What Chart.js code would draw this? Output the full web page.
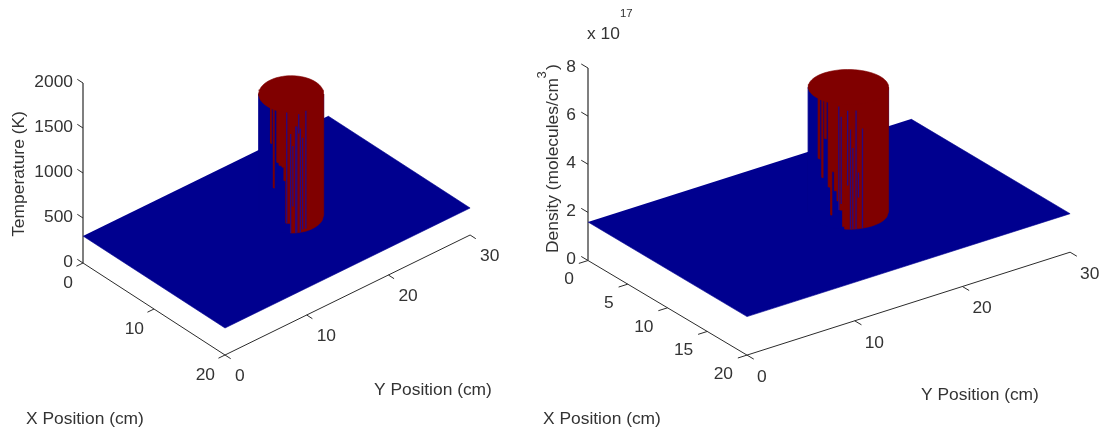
<!DOCTYPE html>
<html>
<head>
<meta charset="utf-8">
<style>
html,body{margin:0;padding:0;background:#fff;width:1100px;height:432px;overflow:hidden}
canvas{position:absolute;top:0}
</style>
<script src="https://cdn.jsdelivr.net/npm/chart.js@4"></script>
</head>
<body>
<canvas id="temp" style="left:0" width="530" height="432"></canvas>
<canvas id="dens" style="left:530px" width="570" height="432"></canvas>
<script>
// ---- shared axis data ----
const xLimit = 20;
const yLimit = 30;
const yTickValues = [0, 10, 20, 30];
const cylinderRadius = 3;
const cylinderCentre = [10, 16.8];

// ---- temperature panel data ----
const tempXTicks = [0, 10, 20];
const tempZTicks = [0, 500, 1000, 1500, 2000];
const tempZLabels = ['0', '500', '1000', '1500', '2000'];
const tempFloor = 300;
const tempTop = 1642;
// red part of the wall: edges across the cylinder and how far down red runs
const tempRedEdges = [-0.64,-0.60,-0.55,-0.52,-0.44,-0.37,-0.28,-0.22,-0.16,-0.02,1];
const tempRedDepth = [0.29,0,0.65,0,0.43,0.45,0.46,0.57,0.92,1];
// blue streaks on the red wall
const tempStreakU    = [-0.14,-0.02,0.05,0.14,0.17,0.23,0.28,0.35,0.45];
const tempStreakFrom = [0,0.18,0.28,0.12,0.12,0.02,0.14,0.22,0];
const tempStreakTo   = [0.92,1,0.78,1,1,0.18,1,0.98,0.98];

// ---- density panel data ----
const densXTicks = [0, 5, 10, 15, 20];
const densZTicks = [0, 2, 4, 6, 8];
const densZLabels = ['0', '2', '4', '6', '8'];
const densFloor = 1.6;
const densTop = 6.78;
const densRedEdges = [-0.75,-0.71,-0.66,-0.63,-0.59,-0.55,-0.50,-0.44,-0.41,-0.35,-0.28,-0.22,-0.14,-0.09,1];
const densRedDepth = [0.48,0,0.62,0,0.30,0,0.68,0.90,0.55,0.70,0.78,0.85,0.98,1];
const densStreakU    = [-0.24,-0.18,-0.02,0.05,0.11,0.19,0.25,0.35];
const densStreakFrom = [0.02,0.10,0.05,0.20,0.35,0.05,0.55,0.20];
const densStreakTo   = [0.85,0.80,0.65,1,1,1,0.75,1];

const BLUE = '#00008f', RED = '#800000', STREAK = '#28087f', INK = '#2b2b2b', TXT = '#333';
const FONT = '17.4px "Liberation Sans", Arial, sans-serif';
const SMALL = '11.4px "Liberation Sans", Arial, sans-serif';
const SUP = '13px "Liberation Sans", Arial, sans-serif';

function makePanel(cfg) {
  const project = (x, y, z) => ({
    x: cfg.origin[0] + x * cfg.xUnit[0] + y * cfg.yUnit[0],
    y: cfg.origin[1] + x * cfg.xUnit[1] + y * cfg.yUnit[1] - z * cfg.zUnit
  });
  const [cx, cy] = cylinderCentre, r = cylinderRadius;
  const phi = Math.atan2(cfg.yUnit[0], cfg.xUnit[0]);
  const rim = (th, z) => project(cx + r * Math.cos(th), cy + r * Math.sin(th), z);
  // a point on the visible front of the wall; u runs -1..1 across it, f 0..1 down it
  const wall = (u, f) => {
    const z = cfg.top - f * (cfg.top - cfg.floor);
    const a = rim(phi + Math.acos(u), z), b = rim(phi - Math.acos(u), z);
    return a.y > b.y ? a : b;
  };

  const layers = [];
  const poly = (data, color) => layers.push({data, showLine: true, fill: 'shape', backgroundColor: color,
    borderColor: color, borderWidth: 0.6, pointRadius: 0, tension: 0});
  const line = (data, color, w) => layers.push({data, showLine: true, fill: false, borderColor: color,
    borderWidth: w, pointRadius: 0, tension: 0});

  // axes
  line([project(0,0,0), project(0,0,cfg.zMax)], '#555', 1.5);
  line([project(0,0,0), project(xLimit,0,0)], INK, 1);
  line([project(xLimit,0,0), project(xLimit,yLimit,0)], INK, 1);
  cfg.zTicks.forEach(z => line([project(0,0,z), project(-cfg.tick,0,z)], INK, 1));
  cfg.xTicks.forEach(x => line([project(x,0,0), project(x,-cfg.tick,0)], INK, 1));
  yTickValues.forEach(y => line([project(xLimit,y,0), project(xLimit+cfg.tick,y,0)], INK, 1));

  // floor
  poly([project(0,0,cfg.floor), project(xLimit,0,cfg.floor), project(xLimit,yLimit,cfg.floor), project(0,yLimit,cfg.floor)], BLUE);

  // blue wall
  const steps = 48, wallPts = [rim(phi + Math.PI, cfg.top)];
  for (let i = 0; i <= steps; i++) wallPts.push(wall(-1 + 2 * i / steps, 1));
  wallPts.push(rim(phi, cfg.top));
  poly(wallPts, BLUE);

  // red part of the wall
  const redPts = [wall(cfg.redEdges[0], 0)];
  cfg.redDepth.forEach((f, i) => {
    const a = cfg.redEdges[i], b = cfg.redEdges[i + 1], n = f === 1 ? 24 : 1;
    for (let k = 0; k <= n; k++) redPts.push(wall(a + (b - a) * k / n, f));
  });
  redPts.push(wall(1, 0));
  poly(redPts, RED);

  // streaks
  cfg.streakU.forEach((u, i) => line([wall(u, cfg.streakFrom[i]), wall(u, cfg.streakTo[i])], STREAK, 1.3));

  // cap
  const cap = [];
  for (let i = 0; i < 72; i++) cap.push(rim(i * Math.PI / 36, cfg.top));
  poly(cap, RED);

  layers.forEach((d, i) => { d.order = layers.length - i; d.parsing = false; d.normalized = false; });

  const textPlugin = {
    id: 'labels',
    afterDatasetsDraw(chart) {
      const ctx = chart.ctx, X = chart.scales.x, Y = chart.scales.y;
      const put = (t, px, py, font, align, rot) => {
        ctx.save();
        ctx.translate(X.getPixelForValue(px), Y.getPixelForValue(rot ? py : py + 1));
        if (rot) ctx.rotate(-Math.PI / 2);
        ctx.font = font; ctx.fillStyle = TXT; ctx.textAlign = align; ctx.textBaseline = 'middle';
        ctx.fillText(t, 0, 0);
        ctx.restore();
      };
      cfg.zTicks.forEach((z, i) => { const p = project(0,0,z); put(cfg.zLabels[i], p.x + cfg.zOff[0], p.y + cfg.zOff[1], FONT, 'right'); });
      cfg.xTicks.forEach(x => { const p = project(x,0,0); put(String(x), p.x + cfg.xOff[0], p.y + cfg.xOff[1], FONT, 'right'); });
      yTickValues.forEach(y => { const p = project(xLimit,y,0); put(String(y), p.x + cfg.yOff[0], p.y + cfg.yOff[1], FONT, 'left'); });
      cfg.texts.forEach(t => put(t[0], t[1], t[2], t[3] || FONT, t[4] || 'left', t[5]));
    }
  };

  new Chart(document.getElementById(cfg.id), {
    type: 'scatter',
    data: {datasets: layers},
    options: {
      responsive: false, animation: false, events: [],
      layout: {padding: 0},
      plugins: {legend: {display: false}, tooltip: {enabled: false}, title: {display: false}},
      scales: {
        x: {type: 'linear', display: false, min: cfg.left, max: cfg.left + cfg.width},
        y: {type: 'linear', display: false, min: 0, max: 432, reverse: true}
      }
    },
    plugins: [textPlugin]
  });
}

makePanel({
  id: 'temp', left: 0, width: 530,
  origin: [83, 263], xUnit: [7.1, 4.6], yUnit: [8.17, -4], zUnit: 0.09, zMax: 2000, tick: 0.8,
  floor: tempFloor, top: tempTop,
  redEdges: tempRedEdges, redDepth: tempRedDepth,
  streakU: tempStreakU, streakFrom: tempStreakFrom, streakTo: tempStreakTo,
  xTicks: tempXTicks, zTicks: tempZTicks, zLabels: tempZLabels,
  zOff: [-10, -1.5], xOff: [-10, 19], yOff: [10, 20],
  texts: [
    ['Temperature (K)', 19.5, 174, FONT, 'center', true],
    ['X Position (cm)', 26, 418],
    ['Y Position (cm)', 374, 389]
  ]
});

makePanel({
  id: 'dens', left: 530, width: 570,
  origin: [588, 260.5], xUnit: [7.95, 4.73], yUnit: [10.77, -3.43], zUnit: 24.06, zMax: 8, tick: 0.85,
  floor: densFloor, top: densTop,
  redEdges: densRedEdges, redDepth: densRedDepth,
  streakU: densStreakU, streakFrom: densStreakFrom, streakTo: densStreakTo,
  xTicks: densXTicks, zTicks: densZTicks, zLabels: densZLabels,
  zOff: [-12, -2], xOff: [-14, 18], yOff: [10, 21],
  texts: [
    ['Density (molecules/cm', 553.5, 253, FONT, 'left', true],
    ['3', 542, 75, SUP, 'center', true],
    [')', 553.5, 67, FONT, 'center', true],
    ['x 10', 587, 33],
    ['17', 620, 13, SMALL],
    ['X Position (cm)', 543, 418],
    ['Y Position (cm)', 921, 394]
  ]
});
</script>
</body>
</html>
